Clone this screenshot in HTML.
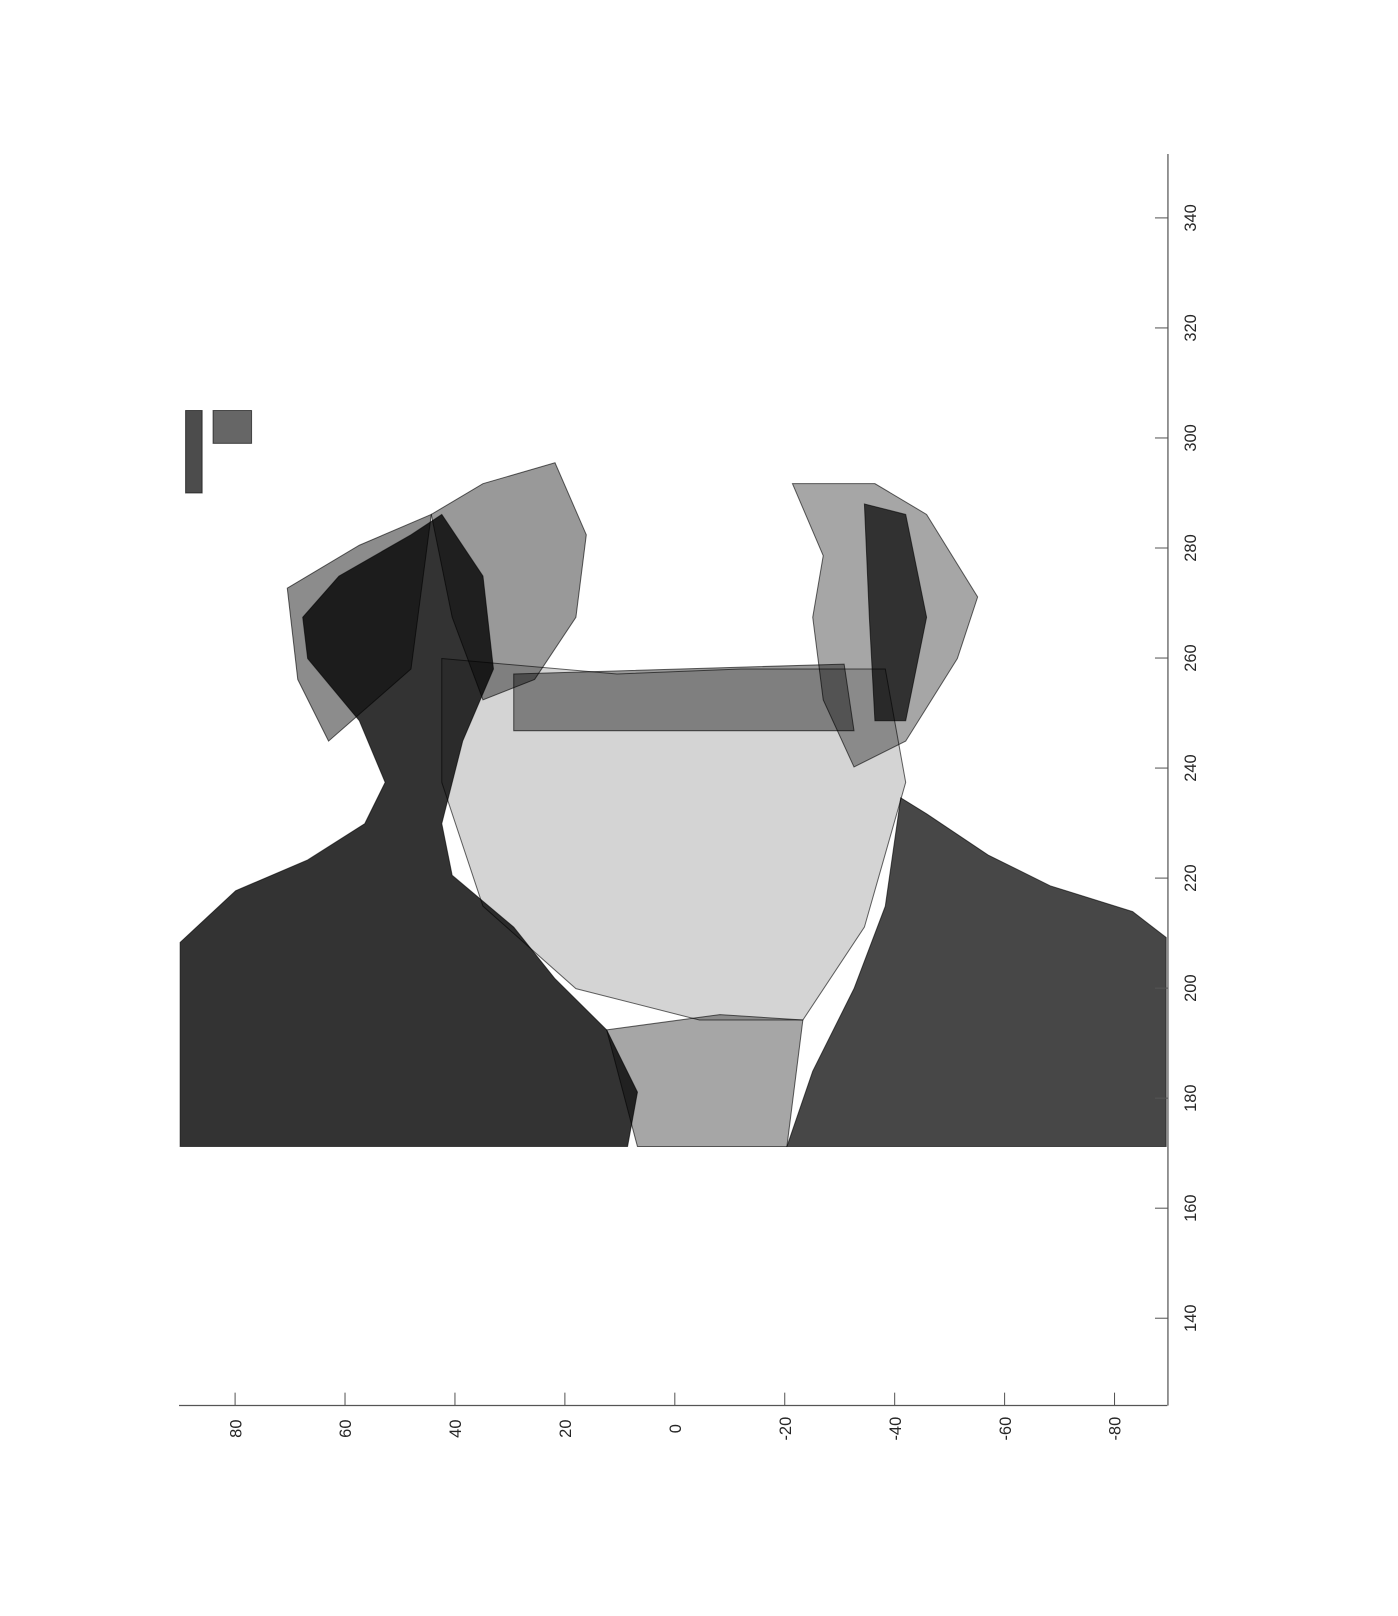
<!DOCTYPE html>
<html><head><meta charset="utf-8"><style>html,body{margin:0;padding:0;background:#fff}svg{display:block}</style></head>
<body>
<svg id="chart" width="1398" height="1616" viewBox="0 0 1358 1570" xmlns="http://www.w3.org/2000/svg" font-family="Liberation Sans, sans-serif">
<g id="marks"></g>
<g id="axes"></g>
</svg>
<script>
const xTicks=[80,60,40,20,0,-20,-40,-60,-80];
const yTicks=[340,320,300,280,260,240,220,200,180,160,140];
const leftBody=[[90,171.2],[90,208.3],[79.9,217.7],[66.8,223.3],[56.4,229.9],[52.7,237.4],[57.4,248.6],[66.8,259.9],[67.7,267.4],[61.1,274.9],[48,282.4],[42.4,286.1],[34.9,274.9],[33,258],[38.6,244.9],[42.4,229.9],[40.5,220.5],[29.3,211.1],[21.8,201.7],[12.4,192.4],[6.8,181.1],[8.6,171.2]];
const rightBody=[[-20.4,171.2],[-25.1,184.9],[-32.6,199.9],[-38.3,214.9],[-41.1,234.6],[-45.8,231.7],[-57,224.2],[-68.3,218.6],[-83.3,213.9],[-89.4,209.2],[-89.4,171.2]];
const rightHair=[[-21.4,291.7],[-36.4,291.7],[-45.8,286.1],[-55.1,271.1],[-51.4,259.9],[-42,244.9],[-32.6,240.2],[-27,252.4],[-25.1,267.4],[-27,278.6]];
const rightHairDark=[[-34.5,288],[-42,286.1],[-45.8,267.4],[-42,248.6],[-36.4,248.6],[-35.4,267.4]];
const leftHairTop=[[44.3,286.1],[34.9,291.7],[21.8,295.5],[16.1,282.4],[18,267.4],[25.5,256.1],[34.9,252.4],[40.5,267.4]];
const leftHairOuter=[[70.5,272.7],[57.4,280.5],[44.3,286.1],[48,258],[63,244.9],[68.6,256.1]];
const faceMesh=[[42.4,259.9],[10.5,257.1],[-12,258],[-38.3,258],[-42,237.4],[-34.5,211.1],[-23.3,194.2],[-4.5,194.2],[18,199.9],[34.9,214.9],[42.4,237.4]];
const lowerMesh=[[12.4,192.4],[-8.2,195.2],[-23.3,194.2],[-20.4,171.2],[6.8,171.2]];
const glasses=[[29.3,257.1],[-30.8,258.9],[-32.6,246.8],[29.3,246.8]];
const blobA=[[89,290],[86,290],[86,305],[89,305]];
const blobB=[[84,299],[77,299],[77,305],[84,305]];
const regions=[[faceMesh,0.17],[lowerMesh,0.35],[leftHairOuter,0.45],[leftHairTop,0.4],[rightHair,0.35],[rightHairDark,0.7],[glasses,0.4],[leftBody,0.8],[rightBody,0.72],[blobA,0.7],[blobB,0.6]];
const X=v=>655.5-v*5.34, Y=v=>211.7+(340-v)*5.345;
const NS="http://www.w3.org/2000/svg";
const marks=document.getElementById('marks'), axes=document.getElementById('axes');
function mk(t,a,p){const e=document.createElementNS(NS,t);for(const k in a)e.setAttribute(k,a[k]);p.appendChild(e);return e;}
regions.forEach(([pts,op],i)=>{
  const e=mk('polygon',{points:pts.map(p=>X(p[0]).toFixed(1)+','+Y(p[1]).toFixed(1)).join(' '),fill:'#000','fill-opacity':op,stroke:'#000','stroke-width':1,'stroke-opacity':0.6},marks);
  
  
});
const xa=mk('line',{x1:X(90.2),x2:X(-89.6),y1:1365.5,y2:1365.5,stroke:'#555','stroke-width':1.2},axes);


const ya=mk('line',{x1:1134.6,x2:1134.6,y1:149.6,y2:1365.5,stroke:'#555','stroke-width':1.2},axes);


xTicks.forEach(v=>{
  mk('line',{x1:X(v),x2:X(v),y1:1365.5,y2:1353,stroke:'#555','stroke-width':1},axes);
  const t=mk('text',{x:0,y:0,'font-size':16,fill:'#262626','text-anchor':'middle',transform:`translate(${X(v)+6},1388) rotate(-90)`},axes);
  t.textContent=v;
  
  
});
yTicks.forEach(v=>{
  mk('line',{x1:1134.6,x2:1122,y1:Y(v),y2:Y(v),stroke:'#555','stroke-width':1},axes);
  const t=mk('text',{x:0,y:0,'font-size':16,fill:'#262626','text-anchor':'middle',transform:`translate(${1162},${Y(v)}) rotate(-90)`},axes);
  t.textContent=v;
  
  
});
</script>
</body></html>
